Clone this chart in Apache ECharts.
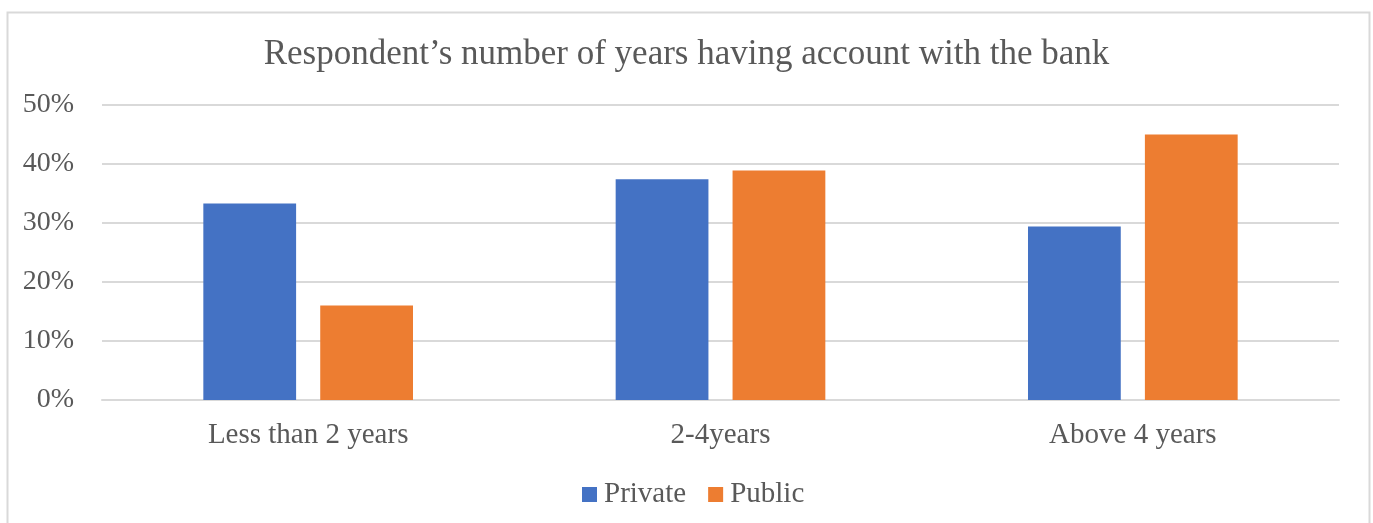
<!DOCTYPE html>
<html>
<head>
<meta charset="utf-8">
<script src="https://cdn.jsdelivr.net/npm/echarts@6/dist/echarts.min.js"></script>
<style>
  html, body { margin: 0; padding: 0; background: #ffffff; }
  #chart { width: 1373px; height: 523px; }
</style>
</head>
<body>
<div id="chart"></div>
<script>
// Account tenure by bank type (share of respondents, %)
const categories = ['Less than 2 years', '2-4years', 'Above 4 years'];
const privateValues = [33.3, 37.4, 29.4];
const publicValues = [16.0, 38.9, 45.0];
const seriesNames = ['Private', 'Public'];
const titleText = 'Respondent\u2019s number of years having account with the bank';

const FONT = '"Liberation Serif", "Times New Roman", serif';
const TEXT = '#595959';

const chart = echarts.init(document.getElementById('chart'), null, { renderer: 'canvas' });

chart.setOption({
  animation: false,
  backgroundColor: '#ffffff',
  graphic: [{
    type: 'rect',
    left: 5, top: 10,
    shape: { width: 1362, height: 560 },
    style: { fill: 'none', stroke: '#d9d9d9', lineWidth: 2 },
    silent: true
  }],
  title: {
    text: titleText,
    left: 'center',
    top: 32,
    textStyle: { fontFamily: FONT, fontSize: 35, fontWeight: 'normal', color: TEXT }
  },
  legend: {
    data: seriesNames,
    top: 475,
    left: 577,
    itemWidth: 15,
    itemHeight: 15,
    itemGap: 22,
    icon: 'rect',
    textStyle: { fontFamily: FONT, fontSize: 29, color: TEXT, padding: [0, 0, 0, 2] }
  },
  grid: { left: 102, right: 34, top: 105, bottom: 123, containLabel: false },
  xAxis: {
    type: 'category',
    data: categories,
    axisLine: { lineStyle: { color: '#d9d9d9', width: 2 } },
    axisTick: { show: false },
    axisLabel: { fontFamily: FONT, fontSize: 29, color: TEXT, margin: 21 }
  },
  yAxis: {
    type: 'value',
    min: 0, max: 50, interval: 10,
    axisLine: { show: false },
    axisTick: { show: false },
    splitLine: { lineStyle: { color: '#d9d9d9', width: 2 } },
    axisLabel: { fontFamily: FONT, fontSize: 28, color: TEXT, margin: 28, formatter: '{value}%' }
  },
  series: [
    {
      name: seriesNames[0], type: 'bar', data: privateValues,
      barWidth: '22.5%', barGap: '26%',
      itemStyle: { color: '#4472c4' }
    },
    {
      name: seriesNames[1], type: 'bar', data: publicValues,
      barWidth: '22.5%', barGap: '26%',
      itemStyle: { color: '#ed7d31' }
    }
  ]
});
</script>
</body>
</html>
